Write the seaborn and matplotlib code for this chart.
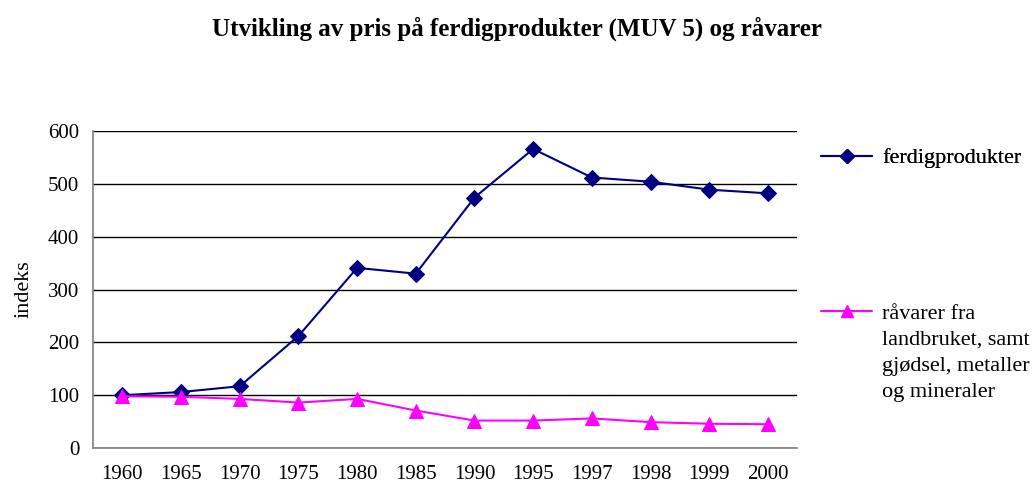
import matplotlib
matplotlib.use("Agg")
import matplotlib.pyplot as plt
from matplotlib.lines import Line2D
import seaborn as sns
import pandas as pd

years = ["1960", "1965", "1970", "1975", "1980", "1985",
         "1990", "1995", "1997", "1998", "1999", "2000"]
ferdig = [100, 106, 117, 212, 341, 330, 474, 566, 512, 504, 489, 482]
raavarer = [98, 97, 93, 86, 93, 71, 52, 52, 56, 49, 46, 45]

label_ferdig = "ferdigprodukter"
label_raa = ["råvarer fra", "landbruket, samt", "gjødsel, metaller", "og mineraler"]

df = pd.DataFrame({"år": years, "ferdig": ferdig, "raa": raavarer})

sns.set_style("white")
plt.rcParams["font.family"] = ["Liberation Serif", "DejaVu Serif"]
plt.rcParams["text.color"] = "black"
plt.rcParams["axes.labelcolor"] = "black"
plt.rcParams["xtick.labelcolor"] = "black"
plt.rcParams["ytick.labelcolor"] = "black"

fig = plt.figure(figsize=(10.34, 4.87), dpi=100)
ax = fig.add_axes([0.09, 0.08, 0.681, 0.651])

navy = "#000080"
pink = "#ff00ff"

sns.lineplot(data=df, x="år", y="ferdig", ax=ax, color=navy, marker="D",
             markersize=8, markeredgecolor=navy, linewidth=1.5, sort=False)
sns.lineplot(data=df, x="år", y="raa", ax=ax, color=pink, marker="^",
             markersize=10, markeredgecolor=pink, linewidth=1.5, sort=False)

ax.set_ylim(0, 600)
ax.set_xlim(-0.5, len(years) - 0.5)
ax.set_yticks(range(0, 601, 100))
ax.yaxis.grid(True, color="black", linewidth=1)
ax.set_axisbelow(True)

ax.set_xticks(range(len(years)))
ax.set_xticklabels(years)
ax.set_xticks([i - 0.5 for i in range(len(years) + 1)], minor=True)
ax.tick_params(axis="x", which="major", length=0, pad=12, labelsize=15)
ax.tick_params(axis="x", which="minor", length=6, color="#808080",
               direction="out", width=1)
ax.tick_params(axis="y", length=6, color="#808080", direction="out",
               width=1, labelsize=15, pad=4)

for s in ["top", "right"]:
    ax.spines[s].set_visible(False)
for s in ["left", "bottom"]:
    ax.spines[s].set_color("#808080")
    ax.spines[s].set_linewidth(1.2)

ax.set_xlabel("")
ax.set_ylabel("indeks", fontsize=16, labelpad=10)

fig.suptitle("Utvikling av pris på ferdigprodukter (MUV 5) og råvarer",
             fontsize=18, fontweight="bold", x=0.5, y=0.965)

h1 = [Line2D([], [], color=navy, marker="D", markersize=7, linewidth=1.5)]
leg1 = fig.legend(h1, [label_ferdig], loc="center left",
                  bbox_to_anchor=(821 / 1034, 1 - 158 / 487), frameon=False,
                  fontsize=16, handlelength=2.3, handletextpad=0.45,
                  borderaxespad=0, borderpad=0)

h2 = [Line2D([], [], color=pink, marker="^", markersize=9, linewidth=1.5)]
h2 += [Line2D([], [], linestyle="none") for _ in label_raa[1:]]
leg2 = fig.legend(h2, label_raa, loc="upper left",
                  bbox_to_anchor=(821 / 1034, 1 - 303 / 487), frameon=False,
                  fontsize=16, handlelength=2.3, handletextpad=0.45,
                  labelspacing=0.25, borderaxespad=0, borderpad=0)
fig.add_artist(leg1)

fig.savefig("out.png", dpi=100)
